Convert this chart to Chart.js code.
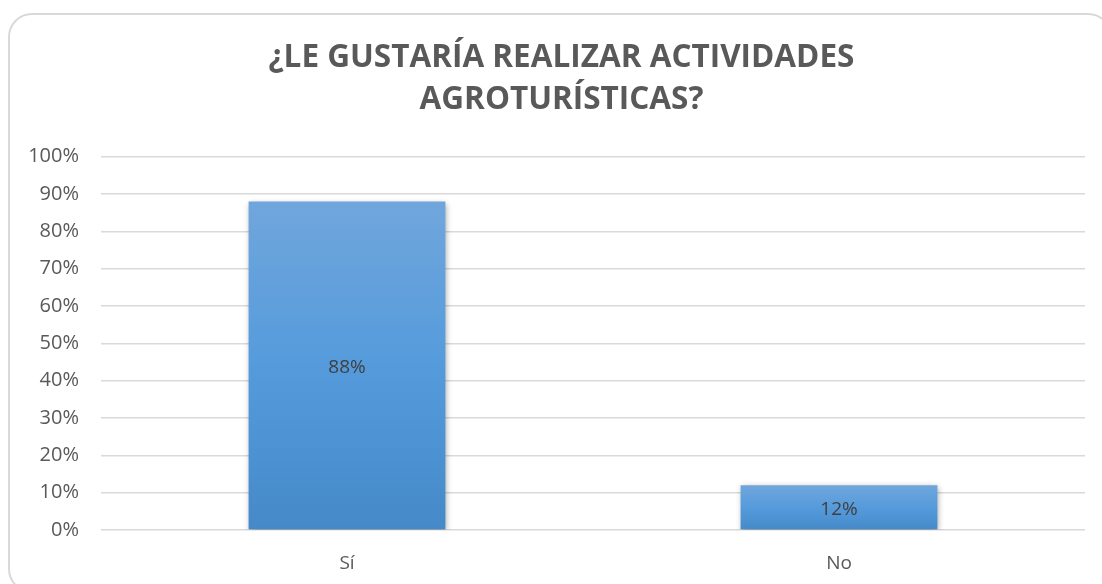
<!DOCTYPE html>
<html>
<head>
<meta charset="utf-8">
<script src="https://cdn.jsdelivr.net/npm/chart.js@4"></script>
<style>
  html, body { margin: 0; padding: 0; background: #fff; overflow: hidden; }
  #frame {
    position: absolute; left: 8px; top: 13px; width: 1104px; height: 580px;
    border: 2px solid #d9d9d9; border-radius: 24px; box-sizing: border-box;
  }
  #wrap { position: absolute; left: 0; top: 0; width: 1102px; height: 584px; }
</style>
</head>
<body>
<div id="frame"></div>
<div id="wrap"><canvas id="chart" width="1102" height="584"></canvas></div>
<script>
// Categories and values (percent)
const categories = ["Sí", "No"];
const values = [88, 12];
const titleLines = ["¿LE GUSTARÍA REALIZAR ACTIVIDADES", "AGROTURÍSTICAS?"];

// Vertical blue gradient, one per bar
function barGradient(context) {
  const chart = context.chart;
  const y = chart.scales.y;
  if (!y || context.raw === undefined) return "#5b9bd5";
  const top = y.getPixelForValue(context.raw);
  const bottom = y.getPixelForValue(0);
  if (!isFinite(top) || !isFinite(bottom) || top === bottom) return "#5b9bd5";
  const g = chart.ctx.createLinearGradient(0, top, 0, bottom);
  g.addColorStop(0, "#70a6dc");
  g.addColorStop(0.5, "#559bdc");
  g.addColorStop(1, "#4589c8");
  return g;
}

// Soft shadow behind bars
const shadowPlugin = {
  id: "barShadow",
  beforeDatasetDraw(chart) {
    const ctx = chart.ctx;
    ctx.save();
    ctx.shadowColor = "rgba(0,0,0,0.35)";
    ctx.shadowBlur = 6;
    ctx.shadowOffsetX = 1;
    ctx.shadowOffsetY = 2;
  },
  afterDatasetDraw(chart) {
    chart.ctx.restore();
  },
};

// Title in the original sits a little right of the canvas middle
const titleShift = {
  id: "titleShift",
  afterLayout(chart) {
    const t = chart.titleBlock;
    if (t) { t.left += 12; t.right += 12; }
  },
};

// Value labels in the middle of each bar
const labelPlugin = {
  id: "valueLabels",
  afterDatasetsDraw(chart) {
    const ctx = chart.ctx;
    const meta = chart.getDatasetMeta(0);
    ctx.save();
    ctx.font = '19px "Open Sans", sans-serif';
    ctx.fillStyle = "#404040";
    ctx.textAlign = "center";
    ctx.textBaseline = "middle";
    meta.data.forEach((bar, i) => {
      const y = (bar.y + bar.base) / 2;
      ctx.fillText(values[i] + "%", bar.x, y + 2);
    });
    ctx.restore();
  },
};

new Chart(document.getElementById("chart"), {
  type: "bar",
  data: {
    labels: categories,
    datasets: [{
      data: values,
      backgroundColor: barGradient,
      borderWidth: 0,
      barPercentage: 0.8,
      categoryPercentage: 0.5,
    }],
  },
  plugins: [shadowPlugin, titleShift, labelPlugin],
  options: {
    responsive: false,
    animation: false,
    layout: { padding: { left: 14, right: 17, top: 37, bottom: 9 } },
    plugins: {
      legend: { display: false },
      tooltip: { enabled: false },
      title: {
        display: true,
        text: titleLines,
        color: "#595959",
        font: { family: "Open Sans", size: 31.5, weight: "bold", lineHeight: 1.33 },
        padding: { top: 0, bottom: 36 },
      },
    },
    scales: {
      x: {
        afterFit(scale) { scale.height = 45; },
        grid: { display: false },
        border: { display: false },
        ticks: { color: "#595959", font: { family: "Open Sans", size: 19 }, padding: 14 },
      },
      y: {
        min: 0,
        max: 100,
        afterFit(scale) { scale.width = 87; },
        grid: { color: "#d9d9d9", lineWidth: 1.5, drawTicks: false },
        border: { display: false },
        ticks: {
          stepSize: 10,
          color: "#595959",
          font: { family: "Open Sans", size: 20 },
          padding: 22,
          callback: (v) => v + "%",
        },
      },
    },
  },
});
</script>
</body>
</html>
